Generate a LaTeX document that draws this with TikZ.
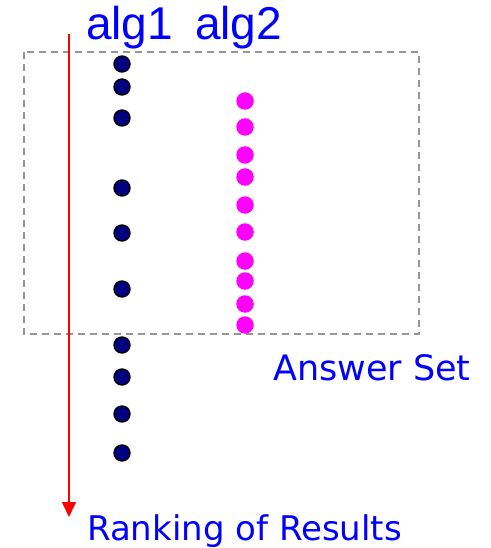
\documentclass[tikz,border=0pt]{standalone}
\usepackage{fontspec}
\setmainfont{Liberation Sans}
\newfontfamily\comicfont{DejaVu Sans}
\usetikzlibrary{arrows.meta}
\definecolor{dotnavy}{RGB}{0,0,128}
\definecolor{dotpink}{RGB}{255,0,255}
\definecolor{txtblue}{RGB}{0,0,255}
\definecolor{boxgray}{RGB}{150,150,150}
\tikzset{
  navydot/.style={circle,draw=black,fill=dotnavy,line width=1.4pt,minimum size=16pt,inner sep=0pt},
  pinkdot/.style={circle,fill=dotpink,minimum size=17.5pt,inner sep=0pt},
  lbl/.style={text=txtblue,inner sep=0pt,anchor=base west},
  answerbox/.style={draw=boxgray,line width=1.6pt,dash pattern=on 7pt off 5pt},
  rankarrow/.style={red,line width=1.4pt,-{Triangle[width=14pt,length=15pt]}}
}
\begin{document}
\begin{tikzpicture}[x=1pt,y=-1pt]
\useasboundingbox (0,0) rectangle (490,548);
\draw[answerbox] (24,52) rectangle (419,334);
\coordinate (top) at (69,34);
\coordinate (bot) at (69,517);
\draw[rankarrow] (top)--(bot);
\foreach \y [count=\i] in {64,87,118,188,233,289,345,377,414,453}
  \node[navydot] (a\i) at (122,\y) {};
\foreach \y [count=\i] in {101,127,155,177,205,232,261,281,304,325}
  \node[pinkdot] (b\i) at (245,\y) {};
\node[lbl,font=\fontsize{46}{50}\selectfont] (alg1) at (86,40) {alg1};
\node[lbl,font=\fontsize{46}{50}\selectfont] (alg2) at (195,40) {alg2};
\node[lbl,font=\comicfont\fontsize{35}{40}\selectfont] (ans) at (273,380) {Answer Set};
\node[lbl,font=\comicfont\fontsize{34}{40}\selectfont] (rank) at (87,540) {Ranking of Results};
\end{tikzpicture}
\end{document}
